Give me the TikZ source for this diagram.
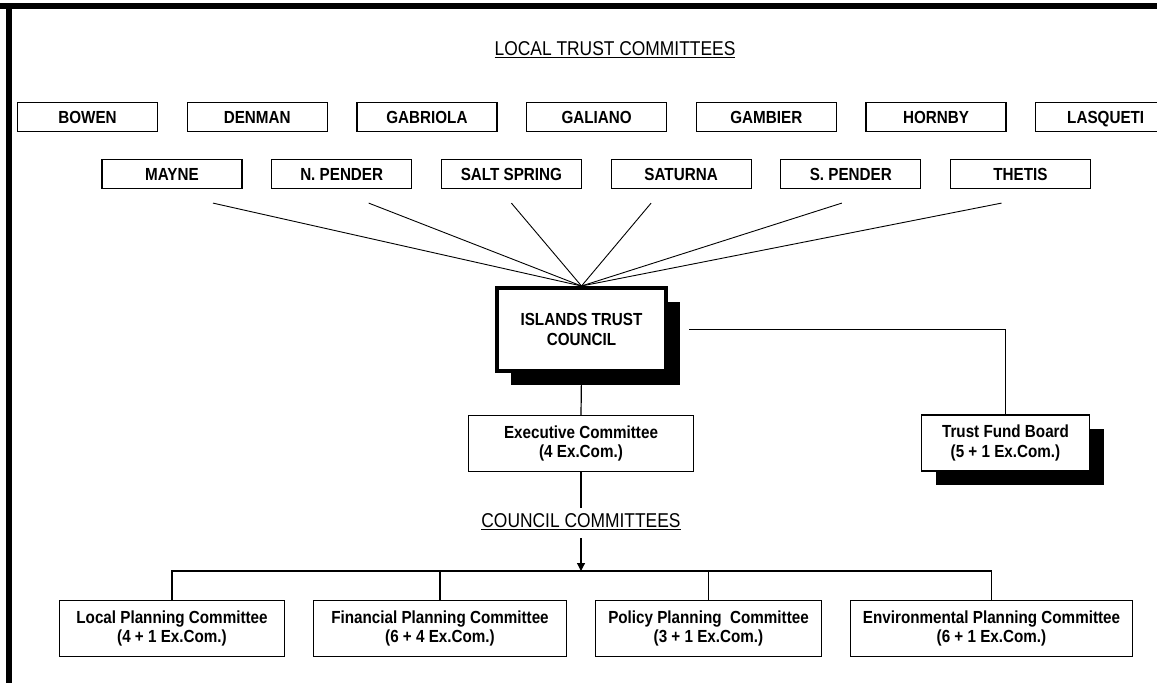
\documentclass[tikz,border=0pt]{standalone}
\usepackage{fontspec}
\newfontfamily\chartfont[FakeStretch=0.87]{Liberation Sans}
\usetikzlibrary{positioning}
\usetikzlibrary{shadows}
\usetikzlibrary{arrows.meta}

\begin{document}
\begin{tikzpicture}[x=1pt,y=-1pt,
  ltc/.style={draw,line width=1.2pt,minimum width=140pt,minimum height=29pt,inner sep=0pt,
    text height=12.6pt,text depth=0pt,
    font=\chartfont\bfseries\fontsize{17.5}{19.5}\selectfont},
  cbox/.style={draw,line width=1.2pt,fill=white,minimum height=56pt,inner sep=0pt,align=center,
    font=\chartfont\bfseries\fontsize{17.5}{19.5}\selectfont},
  heading/.style={font=\chartfont\fontsize{20}{22}\selectfont,inner sep=0pt},
  blackshadow/.style={drop shadow={shadow xshift=14pt,shadow yshift=-14pt,fill=black,opacity=1}},
  spoke/.style={line width=0.9pt},
  link/.style={line width=1.2pt}]
\clip (0,0) rectangle (1157,683);

% frame
\draw[line width=5.5pt] (0,5.8) -- (1157,5.8);
\draw[line width=6pt] (9,3) -- (9,683);

\node[heading](ltctitle) at (615,50) {\underline{LOCAL TRUST COMMITTEES}};

% local trust committees
\node[ltc](bowen) at (87.5,117) {BOWEN};
\node[ltc, right=28.5pt of bowen](denman) {DENMAN};
\node[ltc, right=28.5pt of denman](gabriola) {GABRIOLA};
\node[ltc, right=28.5pt of gabriola](galiano) {GALIANO};
\node[ltc, right=28.5pt of galiano](gambier) {GAMBIER};
\node[ltc, right=28.5pt of gambier](hornby) {HORNBY};
\node[ltc, right=28.5pt of hornby](lasqueti) {LASQUETI};

\node[ltc](mayne) at (172,174) {MAYNE};
\node[ltc, right=28.5pt of mayne](npender) {N. PENDER};
\node[ltc, right=28.5pt of npender](saltspring) {SALT SPRING};
\node[ltc, right=28.5pt of saltspring](saturna) {SATURNA};
\node[ltc, right=28.5pt of saturna](spender) {S. PENDER};
\node[ltc, right=28.5pt of spender](thetis) {THETIS};

% council
\node[draw,line width=4pt,fill=white,minimum width=169pt,minimum height=83pt,align=center,
  font=\chartfont\bfseries\fontsize{17.5}{19.5}\selectfont,blackshadow](council) at (581.5,329.5) {ISLANDS TRUST\\COUNCIL};

\draw[spoke] ([xshift=41pt,yshift=-14pt]mayne.south) -- (council.north);
\draw[spoke] ([xshift=27pt,yshift=-14pt]npender.south) -- (council.north);
\draw[spoke] ([yshift=-14pt]saltspring.south) -- (council.north);
\draw[spoke] ([xshift=-30pt,yshift=-14pt]saturna.south) -- (council.north);
\draw[spoke] ([xshift=-9pt,yshift=-14pt]spender.south) -- (council.north);
\draw[spoke] ([xshift=-19pt,yshift=-14pt]thetis.south) -- (council.north);

\node[cbox, minimum width=168pt, blackshadow](tfb) at (1005.5,443) {Trust Fund Board\\(5 + 1 Ex.Com.)};
\node[cbox, minimum width=225pt](exec) at (581,443.5) {Executive Committee\\(4 Ex.Com.)};

\draw[link] ([xshift=21pt]council.east) -| (tfb.north);
\draw[link] (council.south) -- (exec.north);

\node[heading](cctitle) at (581,522) {\underline{COUNCIL COMMITTEES}};
\coordinate (bus) at (581,571);
\draw[link] (exec.south) -- ++(0,36);
\draw[link,-{Triangle[length=8pt,width=8pt]}] (cctitle.south |- 0,538) -- (bus);

% council committees
\node[cbox, minimum width=225pt](local) at (172,628.5) {Local Planning Committee\\(4 + 1 Ex.Com.)};
\node[cbox, minimum width=253pt](financial) at (440,628.5) {Financial Planning Committee\\(6 + 4 Ex.Com.)};
\node[cbox, minimum width=226pt](policy) at (708.5,628.5) {Policy Planning\ \ Committee\\(3 + 1 Ex.Com.)};
\node[cbox, minimum width=282pt](environ) at (991.5,628.5) {Environmental Planning Committee\\(6 + 1 Ex.Com.)};

\draw[link] (local.north) |- (bus) -| (environ.north);
\draw[link] (financial.north) -- (financial.north |- bus);
\draw[link] (policy.north) -- (policy.north |- bus);
\end{tikzpicture}
\end{document}
